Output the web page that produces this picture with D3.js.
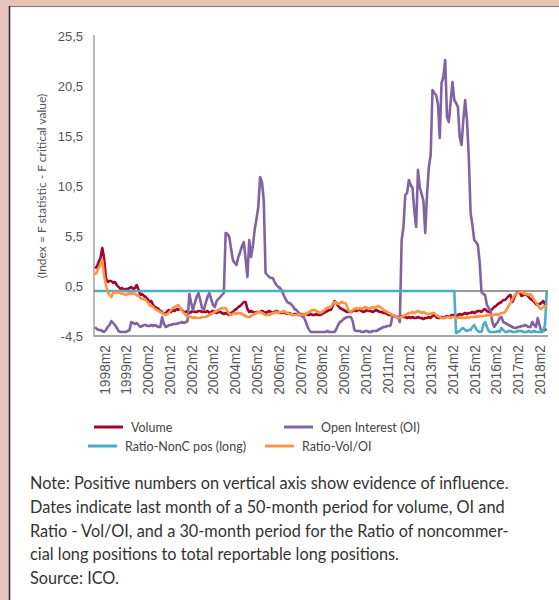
<!DOCTYPE html>
<html><head><meta charset="utf-8">
<script src="https://cdn.jsdelivr.net/npm/d3@7/dist/d3.min.js"></script>
<style>
body{margin:0;background:#e9c4bb;}
svg{display:block;font-family:Lato,"DejaVu Sans",sans-serif;}
</style>
</head><body>
<svg id="c" width="559" height="600"></svg>
<script>
// ---- data ----
const startYear = 1997, startMonth = 9, nMonths = 250; // 1997m9 .. 2018m6
const tickLabels = ["1998m2","1999m2","2000m2","2001m2","2002m2","2003m2","2004m2","2005m2","2006m2","2007m2","2008m2","2009m2","2010m2","2011m2","2012m2","2013m2","2014m2","2015m2","2016m2","2017m2","2018m2"];
const yTicks = [-4.5, 0.5, 5.5, 10.5, 15.5, 20.5, 25.5];
const seriesNames = ["Volume","Open Interest (OI)","Ratio-NonC pos (long)","Ratio-Vol/OI"];

const volume = [
 2.3, 2.4, 2.9, 3.3, 4.3, 3.3, 1.3, 0.9, 1.0, 1.0,
 0.8, 0.9, 0.6, 0.4, 0.2, 0.3, 0.1, 0.2, 0.2, 0.3,
 0.4, 0.2, 0.3, 0.6, 0.1, -0.4, -0.3, -0.5, -0.6, -0.8,
 -1.1, -1.0, -1.4, -1.6, -1.7, -1.8, -2.0, -2.1, -2.3, -2.2,
 -2.0, -1.9, -2.1, -1.9, -2.0, -1.8, -1.9, -1.7, -1.9, -2.1,
 -2.1, -2.0, -2.2, -2.1, -2.0, -2.1, -2.1, -2.0, -2.0, -2.1,
 -2.1, -2.1, -2.0, -2.2, -2.1, -2.0, -2.1, -2.2, -2.1, -2.1,
 -2.2, -2.3, -2.2, -2.3, -2.4, -2.2, -2.1, -1.9, -1.8, -1.6,
 -1.5, -1.3, -1.1, -1.1, -1.8, -2.1, -2.0, -2.1, -2.2, -2.1,
 -2.1, -2.1, -2.0, -2.1, -2.2, -2.1, -2.0, -2.1, -2.2, -2.1,
 -2.0, -2.1, -2.2, -2.2, -2.1, -2.2, -2.3, -2.2, -2.3, -2.4,
 -2.3, -2.3, -2.4, -2.4, -2.3, -2.4, -2.3, -2.4, -2.4, -2.3,
 -2.4, -2.4, -2.3, -2.4, -2.4, -2.3, -2.2, -2.1, -2.0, -1.9,
 -1.9, -1.5, -1.0, -1.2, -1.5, -1.7, -1.8, -1.9, -2.0, -2.1,
 -2.1, -2.1, -2.0, -1.9, -2.0, -1.9, -1.9, -2.0, -2.1, -2.0,
 -1.9, -2.0, -2.0, -2.1, -2.0, -1.9, -2.0, -2.1, -2.1, -2.2,
 -2.2, -2.3, -2.4, -2.4, -2.5, -2.5, -2.6, -2.6, -2.6, -2.5,
 -2.6, -2.6, -2.7, -2.6, -2.7, -2.6, -2.7, -2.7, -2.6, -2.7,
 -2.7, -2.8, -2.7, -2.7, -2.6, -2.7, -2.5, -2.4, -2.6, -2.7,
 -2.7, -2.6, -2.7, -2.6, -2.5, -2.6, -2.5, -2.4, -2.4, -2.5,
 -2.4, -2.3, -2.4, -2.3, -2.2, -2.3, -2.2, -2.2, -2.1, -2.2,
 -2.1, -2.0, -2.0, -2.1, -1.9, -1.8, -2.0, -2.1, -2.0, -1.8,
 -1.6, -1.5, -1.3, -1.2, -1.1, -0.9, -0.9, -0.7, -0.5, -0.4,
 -1.1, -0.7, -0.3, -0.1, -0.1, -0.5, -0.4, -0.3, -0.4, -0.6,
 -0.8, -0.9, -1.1, -1.3, -1.4, -1.3, -1.2, -1.0, -1.3, -1.2
];

const openInterest = [
 -3.6, -3.8, -3.9, -3.9, -4.0, -4.1, -3.9, -3.6, -3.4, -3.0,
 -3.2, -3.4, -3.7, -4.0, -4.1, -4.1, -4.1, -4.1, -4.0, -3.9,
 -3.1, -3.2, -3.3, -3.2, -3.4, -3.6, -3.5, -3.4, -3.4, -3.5,
 -3.5, -3.4, -3.5, -3.4, -3.5, -3.6, -3.6, -2.6, -3.3, -3.6,
 -3.5, -3.4, -3.4, -3.3, -3.3, -3.3, -3.2, -3.2, -3.1, -3.2,
 -3.1, -3.0, -0.3, -1.2, -1.9, -1.2, -0.6, -0.2, -0.9, -1.7,
 -1.9, -1.2, -0.6, -0.2, -0.8, -1.4, -1.6, -1.0, -0.8, -0.6,
 -0.4, -0.2, 5.8, 5.7, 5.4, 4.2, 3.1, 2.8, 2.6, 3.4,
 3.9, 4.5, 4.9, 3.2, 1.4, 5.1, 3.4, 4.5, 6.1, 7.2,
 8.4, 11.4, 10.9, 9.1, 1.8, 1.6, 1.4, 1.3, 1.3, 0.9,
 0.6, 0.4, 0.3, 0.0, -0.4, -0.8, -1.1, -1.2, -1.3, -1.5,
 -1.8, -1.9, -2.1, -2.3, -2.5, -2.6, -3.0, -3.5, -3.9, -4.1,
 -4.1, -4.1, -4.1, -4.1, -4.1, -4.1, -4.1, -4.1, -4.0, -4.1,
 -4.1, -4.1, -4.1, -3.8, -3.4, -3.1, -3.0, -2.8, -2.7, -2.6,
 -2.6, -2.6, -3.0, -3.9, -4.0, -4.0, -4.0, -4.1, -4.1, -4.0,
 -4.0, -4.1, -4.1, -4.0, -4.0, -4.0, -3.9, -3.8, -3.7, -3.6,
 -3.6, -3.5, -3.5, -3.4, -2.4, -2.5, -2.6, -2.6, -3.1, 5.1,
 6.4, 9.6, 9.8, 11.1, 10.6, 10.3, 8.0, 6.4, 12.1, 10.4,
 9.7, 9.0, 5.8, 9.7, 12.4, 13.6, 20.1, 19.8, 19.6, 18.7,
 15.3, 20.8, 21.4, 23.1, 17.4, 16.9, 18.9, 20.9, 19.1, 18.8,
 18.4, 15.4, 14.6, 17.1, 19.1, 17.1, 13.4, 7.8, 6.6, 5.1,
 4.9, 4.6, 2.9, -0.1, -0.3, -0.4, -1.4, -1.7, -2.0, -3.1,
 -3.6, -3.3, -3.1, -2.7, -2.6, -3.1, -3.2, -3.3, -3.4, -3.5,
 -3.6, -3.7, -3.7, -3.6, -3.6, -3.5, -3.5, -3.4, -3.5, -3.6,
 -3.6, -3.1, -3.4, -3.6, -2.7, -3.4, -4.1, -4.0, -3.9, -3.8
];

const ratioNonC = [
 0,0,0,0,0,0,0,0,0,0, 0,0,0,0,0,0,0,0,0,0,
 0,0,0,0,0,0,0,0,0,0, 0,0,0,0,0,0,0,0,0,0,
 0,0,0,0,0,0,0,0,0,0, 0,0,0,0,0,0,0,0,0,0,
 0,0,0,0,0,0,0,0,0,0, 0,0,0,0,0,0,0,0,0,0,
 0,0,0,0,0,0,0,0,0,0, 0,0,0,0,0,0,0,0,0,0,
 0,0,0,0,0,0,0,0,0,0, 0,0,0,0,0,0,0,0,0,0,
 0,0,0,0,0,0,0,0,0,0, 0,0,0,0,0,0,0,0,0,0,
 0,0,0,0,0,0,0,0,0,0, 0,0,0,0,0,0,0,0,0,0,
 0,0,0,0,0,0,0,0,0,0, 0,0,0,0,0,0,0,0,0,0,
 0,0,0,0,0,0,0,0,0,0, 0,0,0,0,0,0,0,0,0,
 -4.2, -4.1, -4.0, -3.8, -3.7, -3.9, -4.0, -3.9, -3.9, -3.6,
 -3.4, -3.8, -4.0, -4.1, -4.1, -3.4, -3.1, -3.6, -4.0, -4.1,
 -4.1, -4.1, -4.1, -4.0, -4.1, -3.7, -3.9, -4.1, -4.1, -4.0,
 -4.0, -4.1, -4.1, -4.1, -4.0, -4.0, -4.0, -4.1, -4.1, -4.1,
 -4.0, -4.1, -4.1, -4.0, -4.1, -4.1, -4.1, -4.1, -4.0, -3.4,
 0.0
];

const ratioVolOI = [
 1.6, 1.9, 2.3, 2.6, 3.1, 1.6, 0.6, -0.1, -0.4, -0.6,
 -0.2, -0.1, -0.2, -0.1, -0.2, -0.3, -0.3, -0.4, -0.3, -0.2,
 -0.3, -0.2, -0.3, -0.4, -0.5, -0.7, -0.8, -0.8, -0.9, -1.1,
 -1.4, -1.5, -1.6, -1.8, -1.9, -2.0, -2.1, -2.2, -2.3, -2.4,
 -2.3, -2.1, -1.9, -1.7, -1.6, -1.5, -1.4, -1.7, -2.0, -2.2,
 -2.4, -2.5, -2.6, -2.6, -2.7, -2.6, -2.7, -2.7, -2.7, -2.6,
 -2.6, -2.6, -2.5, -2.4, -2.3, -2.2, -2.1, -2.0, -1.9, -1.8,
 -1.7, -1.7, -1.7, -2.0, -2.3, -2.4, -2.3, -2.2, -2.3, -2.2,
 -2.2, -2.3, -2.4, -2.5, -2.6, -2.6, -2.5, -2.4, -2.3, -2.2,
 -2.1, -2.1, -2.2, -2.3, -2.4, -2.4, -2.4, -2.3, -2.2, -2.2,
 -2.1, -2.2, -2.1, -2.1, -2.0, -2.1, -2.2, -2.3, -2.3, -2.4,
 -2.4, -2.4, -2.3, -2.4, -2.4, -2.3, -2.4, -2.2, -2.1, -2.0,
 -1.9, -1.9, -2.0, -2.1, -2.2, -2.1, -2.0, -1.8, -1.7, -1.6,
 -1.6, -1.3, -1.1, -1.2, -1.3, -1.2, -1.1, -1.2, -1.2, -1.6,
 -2.0, -2.1, -1.9, -1.8, -1.7, -1.8, -1.7, -1.8, -1.7, -1.6,
 -1.7, -1.8, -1.7, -1.6, -1.7, -1.6, -1.5, -1.6, -1.7, -1.9,
 -2.0, -2.1, -2.2, -2.3, -2.4, -2.5, -2.6, -2.7, -2.7, -2.6,
 -2.5, -2.4, -2.3, -2.2, -2.2, -2.1, -2.2, -2.1, -2.0, -2.1,
 -2.2, -2.1, -2.2, -2.3, -2.3, -2.3, -2.2, -2.2, -2.4, -2.5,
 -2.6, -2.7, -2.7, -2.7, -2.6, -2.6, -2.7, -2.6, -2.6, -2.7,
 -2.7, -2.6, -2.7, -2.7, -2.7, -2.6, -2.7, -2.6, -2.6, -2.6,
 -2.5, -2.6, -2.5, -2.5, -2.5, -2.5, -2.4, -2.4, -2.5, -2.4,
 -2.4, -2.3, -2.4, -2.3, -2.2, -2.2, -2.1, -1.8, -1.5, -1.2,
 -0.8, -0.5, -0.3, -0.2, -0.1, -0.1, -0.2, -0.3, -0.3, -0.4,
 -0.3, -0.5, -0.9, -1.1, -1.4, -1.7, -1.8, -1.6, -1.5, -1.6
];

const noteLines = [
 "Note: Positive numbers on vertical axis show evidence of influence.",
 "Dates indicate last month of a 50-month period for volume, OI and",
 "Ratio - Vol/OI, and a 30-month period for the Ratio of noncommer-",
 "cial long positions to total reportable long positions.",
 "Source: ICO."
];

// ---- categories ----
const months = [];
for (let k = 0; k < nMonths; k++) {
  const m = startMonth - 1 + k;
  months.push((startYear + Math.floor(m / 12)) + "m" + (m % 12 + 1));
}

const colors = ["#a3052b", "#8064a2", "#4bacc6", "#f79646"];
const series = [volume, openInterest, ratioNonC, ratioVolOI];

const svg = d3.select("#c");
svg.append("rect").attr("width", 559).attr("height", 600).attr("fill", "#e9c4bb");
svg.append("rect").attr("x", 9.5).attr("y", 6.5).attr("width", 560).attr("height", 600)
  .attr("fill", "#fff").attr("stroke", "#8d7d79").attr("stroke-width", 1.2);
svg.append("line").attr("x1", 9.5).attr("x2", 9.5).attr("y1", 6).attr("y2", 600)
  .attr("stroke", "#333").attr("stroke-width", 1.5);

const x = d3.scalePoint().domain(months).range([95, 546.8]);
const y = d3.scaleLinear().domain([-4.5, 25.5]).range([336, 36]);

// axes
const gy = svg.append("g").attr("transform", "translate(94,0)")
  .call(d3.axisLeft(y).tickValues(yTicks).tickSize(0).tickPadding(11)
    .tickFormat(d => String(d).replace(".", ",")));
gy.select(".domain").remove();
gy.selectAll("text").attr("fill", "#555").attr("font-size", 13);

const gx = svg.append("g").attr("transform", "translate(0,336)")
  .call(d3.axisBottom(x).tickValues(tickLabels).tickSize(0));
gx.select(".domain").remove();
gx.selectAll("text").attr("transform", "rotate(-90)").attr("x", -9).attr("y", 0)
  .attr("dy", "0.36em").attr("text-anchor", "end").attr("fill", "#555").attr("font-size", 13.8);

// frame lines
svg.append("line").attr("x1", 94).attr("x2", 94).attr("y1", 35).attr("y2", 336.5)
  .attr("stroke", "#8a8a8a").attr("stroke-width", 1.2);
svg.append("line").attr("x1", 94).attr("x2", 548).attr("y1", 336).attr("y2", 336)
  .attr("stroke", "#8a8a8a").attr("stroke-width", 1.5);
svg.append("line").attr("x1", 94).attr("x2", 548).attr("y1", y(0)).attr("y2", y(0))
  .attr("stroke", "#333").attr("stroke-width", 1);

// lines
const line = d3.line().x((d, i) => x(months[i])).y(d => y(d));
series.forEach((s, k) => {
  svg.append("path").datum(s).attr("d", line).attr("fill", "none")
    .attr("stroke", colors[k]).attr("stroke-width", 2.6).attr("stroke-linejoin", "round");
});

// y title
svg.append("text").attr("transform", "translate(41,186) rotate(-90)")
  .attr("text-anchor", "middle").attr("dominant-baseline", "central")
  .attr("fill", "#555").attr("font-size", 12).text("(Index = F statistic - F critical value)");

// legend
const legPos = [[94, 427], [284, 427], [88, 446], [265, 446]];
series.forEach((s, k) => {
  const [lx, ly] = legPos[k];
  svg.append("line").attr("x1", lx).attr("x2", lx + 29).attr("y1", ly).attr("y2", ly)
    .attr("stroke", colors[k]).attr("stroke-width", 3);
  svg.append("text").attr("x", lx + 37).attr("y", ly).attr("dominant-baseline", "central")
    .attr("fill", "#444").attr("font-size", 12.5).text(seriesNames[k]);
});

// note
noteLines.forEach((t, i) => {
  svg.append("text").attr("x", 30).attr("y", 489 + i * 23.8)
    .attr("fill", "#333").attr("font-size", 16.3).text(t);
});
</script>
</body></html>
